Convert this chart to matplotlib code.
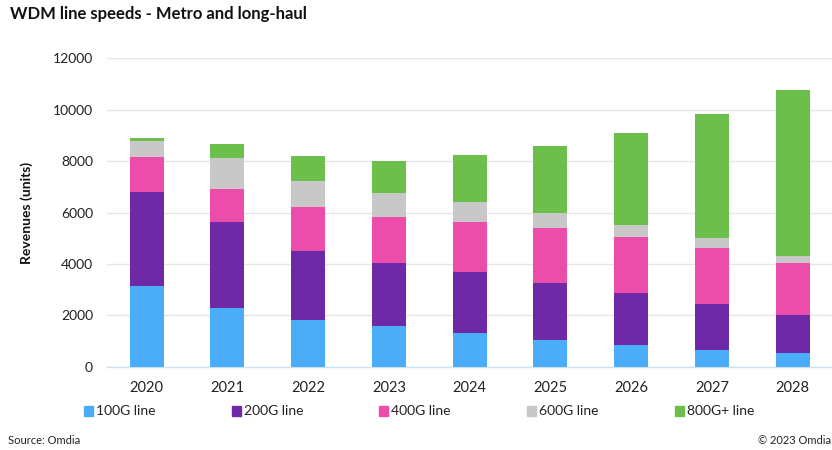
import matplotlib
matplotlib.use("Agg")
import matplotlib.pyplot as plt
import numpy as np
from matplotlib.patches import Rectangle

years = ["2020", "2021", "2022", "2023", "2024", "2025", "2026", "2027", "2028"]
series_names = ["100G line", "200G line", "400G line", "600G line", "800G+ line"]
v100 = [3150, 2270, 1815, 1580, 1320, 1040, 840, 660, 520]
v200 = [3660, 3360, 2675, 2470, 2360, 2220, 2010, 1770, 1490]
v400 = [1335, 1270, 1720, 1790, 1960, 2120, 2200, 2170, 2020]
v600 = [625, 1210, 1000, 920, 750, 600, 460, 390, 280]
v800 = [140, 570, 970, 1260, 1850, 2610, 3600, 4840, 6440]
yticks = [0, 2000, 4000, 6000, 8000, 10000, 12000]

colors = ["#4BADF8", "#6E2AA6", "#EC4DAA", "#C8C8C8", "#6BBF4A"]
FONT = ["Lato", "DejaVu Sans"]
plt.rcParams["font.family"] = FONT

fig = plt.figure(figsize=(8.32, 4.5), dpi=100)
ax = fig.add_axes([107 / 832, 83.3 / 450, 726 / 832, 308.4 / 450])

x = np.arange(len(years))
bottom = np.zeros(len(years))
for vals, c in zip([v100, v200, v400, v600, v800], colors):
    ax.bar(x, vals, width=0.42, bottom=bottom, color=c, zorder=3)
    bottom += np.array(vals)

ax.set_xlim(-0.49, 8.5)
ax.set_ylim(0, 12000)
ax.set_yticks(yticks)
ax.set_yticklabels([str(t) for t in yticks], fontsize=10, color="#222222")
ax.set_xticks(x)
ax.set_xticklabels(years, fontsize=10.5, color="#222222")
ax.tick_params(axis="both", length=0)
ax.tick_params(axis="y", pad=10)
ax.tick_params(axis="x", pad=10)
ax.grid(axis="y", color="#E6E6E6", linewidth=1, zorder=0)
for s in ["top", "right", "left"]:
    ax.spines[s].set_visible(False)
ax.spines["bottom"].set_color("#C9E2F5")
ax.spines["bottom"].set_linewidth(1)

ax.set_ylabel("Revenues (units)", fontsize=10, fontweight="bold", labelpad=14, color="#111111")

fig.text(10 / 832, 1 - 14 / 450, "WDM line speeds - Metro and long-haul",
         fontsize=12, fontweight="bold", va="center", ha="left", color="#111111")

# legend
leg_x = [84, 232, 379, 527, 675]
for name, c, lx in zip(series_names, colors, leg_x):
    fig.patches.append(Rectangle((lx / 832, 1 - 416 / 450), 9 / 832, 10 / 450,
                                 transform=fig.transFigure, color=c))
    fig.text((lx + 12) / 832, 1 - 411 / 450, name, fontsize=10, va="center",
             ha="left", color="#222222")

fig.text(8 / 832, 1 - 441 / 450, "Source: Omdia", fontsize=8, va="center", ha="left", color="#222222")
fig.text(831 / 832, 1 - 441 / 450, "© 2023 Omdia", fontsize=8, va="center", ha="right", color="#222222")

fig.savefig("out.png", dpi=100, facecolor="white")
